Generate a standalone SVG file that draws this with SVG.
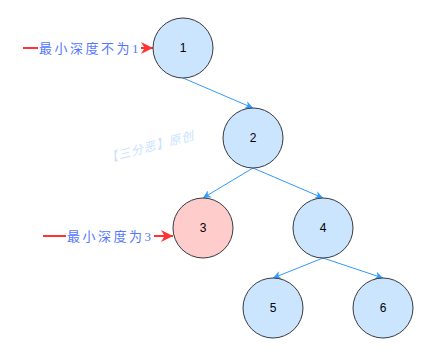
<svg xmlns="http://www.w3.org/2000/svg" width="436" height="355" viewBox="0 0 436 355">
<style>
.node{fill:#CCE5FF;stroke:#36393D;stroke-width:1}
.hl{fill:#FFCCCC}
.nt{font-family:"Liberation Sans",Arial,sans-serif;font-size:12px;fill:#000;text-anchor:middle;dominant-baseline:central}
.edge{stroke:#3399FF;stroke-width:1;fill:none;marker-end:url(#ab)}
.red{stroke:#FF3333;stroke-width:2;fill:none;marker-end:url(#ar)}
.lbl{font-family:"Liberation Serif","Noto Sans CJK SC",serif;font-size:13px;letter-spacing:2.5px;fill:#5577FF;dominant-baseline:central}
.wm{font-family:"Liberation Serif","Noto Sans CJK SC",serif;font-size:12px;font-style:italic;fill:#C8E2FF;letter-spacing:1px}
</style>
<defs>
<marker id="ab" viewBox="0 0 10 10" refX="10" refY="5" markerWidth="8" markerHeight="8" markerUnits="userSpaceOnUse" orient="auto">
<path d="M0,0 L10,5 L0,10 L3,5 Z" fill="#3399FF"/>
</marker>
<marker id="ar" viewBox="0 0 10 10" refX="10" refY="5" markerWidth="12" markerHeight="12" markerUnits="userSpaceOnUse" orient="auto">
<path d="M0,0 L10,5 L0,10 L3,5 Z" fill="#FF3333"/>
</marker>
</defs>
<rect width="436" height="355" fill="#FFFFFF"/>
<g id="connectors">
<line class="edge" x1="183" y1="78" x2="253" y2="108"/>
<line class="edge" x1="253" y1="168" x2="203" y2="198"/>
<line class="edge" x1="253" y1="168" x2="323" y2="198"/>
<line class="edge" x1="323" y1="258" x2="273" y2="278"/>
<line class="edge" x1="323" y1="258" x2="383" y2="278"/>
</g>
<g id="label1">
<line class="red" x1="23" y1="48" x2="153" y2="48"/>
<rect x="38" y="39" width="103" height="18" fill="#FFFFFF"/>
<text class="lbl" x="39" y="48">最小深度不为1</text>
</g>
<g id="label3">
<line class="red" x1="43" y1="236" x2="173" y2="236"/>
<rect x="66" y="227" width="88" height="18" fill="#FFFFFF"/>
<text class="lbl" x="67" y="236">最小深度为3</text>
</g>
<g id="watermark">
<text class="wm" x="102" y="152" transform="rotate(-15 145 138)">【三分恶】原创</text>
</g>
<g id="n1"><circle class="node" cx="183" cy="48" r="30"/><text class="nt" x="183" y="48">1</text></g>
<g id="n2"><circle class="node" cx="253" cy="138" r="30"/><text class="nt" x="253" y="138">2</text></g>
<g id="n3"><circle class="node hl" cx="203" cy="228" r="30"/><text class="nt" x="203" y="228">3</text></g>
<g id="n4"><circle class="node" cx="323" cy="228" r="30"/><text class="nt" x="323" y="228">4</text></g>
<g id="n5"><circle class="node" cx="273" cy="308" r="30"/><text class="nt" x="273" y="308">5</text></g>
<g id="n6"><circle class="node" cx="383" cy="308" r="30"/><text class="nt" x="383" y="308">6</text></g>
</svg>
